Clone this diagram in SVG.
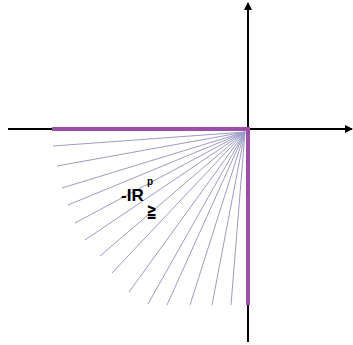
<svg xmlns="http://www.w3.org/2000/svg" width="353" height="345" viewBox="0 0 353 345">
<style>
.axis{stroke:#000;stroke-width:2;fill:none}
.ray{stroke:#9c9cc4;stroke-width:1;fill:none}
.cone{stroke:#9b4fa8;stroke-width:4;fill:none}
.t{font-family:"Liberation Sans",Arial,sans-serif;font-weight:bold;fill:#000}
</style>
<defs>
<marker id="ah" markerWidth="8" markerHeight="8" refX="7" refY="4" orient="auto" markerUnits="userSpaceOnUse">
<path d="M0,0 L8,4 L0,8 Z" fill="#000"/>
</marker>
</defs>
<rect width="353" height="345" fill="#fff"/>
<g id="axes">
<line class="axis" x1="8" y1="129" x2="352" y2="129" marker-end="url(#ah)"/>
<line class="axis" x1="248" y1="342" x2="248" y2="3" marker-end="url(#ah)"/>
</g>
<g id="rays">
<line class="ray" x1="245" y1="132" x2="53" y2="146"/>
<line class="ray" x1="245" y1="132" x2="57" y2="166"/>
<line class="ray" x1="245" y1="132" x2="62" y2="188"/>
<line class="ray" x1="245" y1="132" x2="68" y2="205"/>
<line class="ray" x1="245" y1="132" x2="75" y2="223"/>
<line class="ray" x1="245" y1="132" x2="85" y2="240"/>
<line class="ray" x1="245" y1="132" x2="100" y2="256"/>
<line class="ray" x1="245" y1="132" x2="112" y2="273"/>
<line class="ray" x1="245" y1="132" x2="129" y2="292"/>
<line class="ray" x1="245" y1="132" x2="148" y2="304"/>
<line class="ray" x1="245" y1="132" x2="167" y2="305"/>
<line class="ray" x1="245" y1="132" x2="190" y2="305"/>
<line class="ray" x1="245" y1="132" x2="212" y2="305"/>
<line class="ray" x1="245" y1="132" x2="231" y2="305"/>
</g>
<g id="cone">
<polyline class="cone" points="52,129 248,129 248,305"/>
</g>
<g id="label">
<text class="t" x="121" y="201" font-size="17">-IR</text>
<text class="t" x="147" y="185" font-size="10">p</text>
<text x="0" y="0" font-size="19" font-family="'DejaVu Sans',sans-serif" font-weight="bold" fill="#000" transform="translate(146.5,217) scale(0.65,1)">≧</text>
</g>
</svg>
